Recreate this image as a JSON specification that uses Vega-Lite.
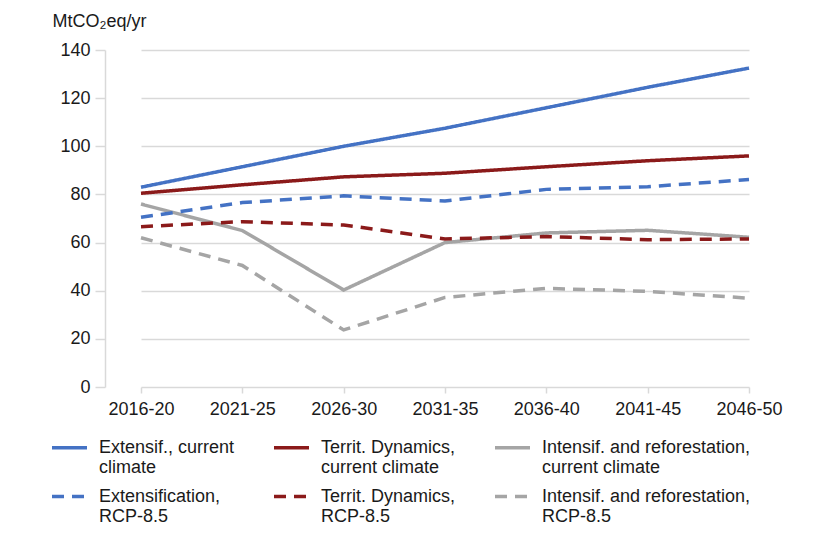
{
  "$schema": "https://vega.github.io/schema/vega-lite/v6.json",
  "width": 693,
  "height": 337,
  "autosize": {"type": "none"},
  "padding": {"left": 105, "top": 50, "right": 38, "bottom": 149},
  "background": "white",
  "config": {
    "font": "Liberation Sans",
    "view": {"stroke": null},
    "axis": {"labelFontSize": 18, "labelColor": "#1a1a1a", "titleColor": "#1a1a1a"},
    "legend": {"labelFontSize": 18, "labelColor": "#1a1a1a"}
  },
  "data": {
    "values": [
      {"period": "2016-20", "series": "Extensif., current climate", "value": 83},
      {"period": "2021-25", "series": "Extensif., current climate", "value": 91.5},
      {"period": "2026-30", "series": "Extensif., current climate", "value": 100},
      {"period": "2031-35", "series": "Extensif., current climate", "value": 107.5},
      {"period": "2036-40", "series": "Extensif., current climate", "value": 116},
      {"period": "2041-45", "series": "Extensif., current climate", "value": 124.5},
      {"period": "2046-50", "series": "Extensif., current climate", "value": 132.5},
      {"period": "2016-20", "series": "Territ. Dynamics, current climate", "value": 80.5},
      {"period": "2021-25", "series": "Territ. Dynamics, current climate", "value": 84},
      {"period": "2026-30", "series": "Territ. Dynamics, current climate", "value": 87.3},
      {"period": "2031-35", "series": "Territ. Dynamics, current climate", "value": 88.8},
      {"period": "2036-40", "series": "Territ. Dynamics, current climate", "value": 91.5},
      {"period": "2041-45", "series": "Territ. Dynamics, current climate", "value": 94},
      {"period": "2046-50", "series": "Territ. Dynamics, current climate", "value": 96},
      {"period": "2016-20", "series": "Intensif. and reforestation, current climate", "value": 76},
      {"period": "2021-25", "series": "Intensif. and reforestation, current climate", "value": 65},
      {"period": "2026-30", "series": "Intensif. and reforestation, current climate", "value": 40.3},
      {"period": "2031-35", "series": "Intensif. and reforestation, current climate", "value": 60},
      {"period": "2036-40", "series": "Intensif. and reforestation, current climate", "value": 64},
      {"period": "2041-45", "series": "Intensif. and reforestation, current climate", "value": 65.1},
      {"period": "2046-50", "series": "Intensif. and reforestation, current climate", "value": 62.2},
      {"period": "2016-20", "series": "Extensification, RCP-8.5", "value": 70.5},
      {"period": "2021-25", "series": "Extensification, RCP-8.5", "value": 76.6},
      {"period": "2026-30", "series": "Extensification, RCP-8.5", "value": 79.4},
      {"period": "2031-35", "series": "Extensification, RCP-8.5", "value": 77.3},
      {"period": "2036-40", "series": "Extensification, RCP-8.5", "value": 82.1},
      {"period": "2041-45", "series": "Extensification, RCP-8.5", "value": 83.2},
      {"period": "2046-50", "series": "Extensification, RCP-8.5", "value": 86.2},
      {"period": "2016-20", "series": "Territ. Dynamics, RCP-8.5", "value": 66.6},
      {"period": "2021-25", "series": "Territ. Dynamics, RCP-8.5", "value": 68.7},
      {"period": "2026-30", "series": "Territ. Dynamics, RCP-8.5", "value": 67.3},
      {"period": "2031-35", "series": "Territ. Dynamics, RCP-8.5", "value": 61.5},
      {"period": "2036-40", "series": "Territ. Dynamics, RCP-8.5", "value": 62.5},
      {"period": "2041-45", "series": "Territ. Dynamics, RCP-8.5", "value": 61.2},
      {"period": "2046-50", "series": "Territ. Dynamics, RCP-8.5", "value": 61.5},
      {"period": "2016-20", "series": "Intensif. and reforestation, RCP-8.5", "value": 62},
      {"period": "2021-25", "series": "Intensif. and reforestation, RCP-8.5", "value": 50.5},
      {"period": "2026-30", "series": "Intensif. and reforestation, RCP-8.5", "value": 23.7},
      {"period": "2031-35", "series": "Intensif. and reforestation, RCP-8.5", "value": 37.2},
      {"period": "2036-40", "series": "Intensif. and reforestation, RCP-8.5", "value": 41},
      {"period": "2041-45", "series": "Intensif. and reforestation, RCP-8.5", "value": 39.7},
      {"period": "2046-50", "series": "Intensif. and reforestation, RCP-8.5", "value": 36.9}
    ]
  },
  "mark": {"type": "line", "strokeWidth": 3.5, "strokeCap": "butt"},
  "encoding": {
    "x": {
      "field": "period",
      "type": "ordinal",
      "scale": {"type": "point", "range": [36, 644], "padding": 0},
      "axis": {
        "title": null,
        "labelAngle": 0,
        "domain": false,
        "grid": false,
        "tickColor": "#D9D9D9",
        "tickWidth": 1.5,
        "tickSize": 6,
        "labelPadding": 7
      }
    },
    "y": {
      "field": "value",
      "type": "quantitative",
      "scale": {"domain": [0, 140], "nice": false},
      "axis": {
        "values": [0, 20, 40, 60, 80, 100, 120, 140],
        "title": "MtCO₂eq/yr",
        "titleAngle": 0,
        "titleAlign": "left",
        "titleBaseline": "alphabetic",
        "titleX": -53,
        "titleY": -24,
        "titleFontSize": 18,
        "titleFontWeight": "normal",
        "gridColor": "#D9D9D9",
        "gridWidth": 1.5,
        "domainColor": "#D9D9D9",
        "domainWidth": 1.5,
        "tickColor": "#D9D9D9",
        "tickWidth": 1.5,
        "tickSize": 10,
        "labelPadding": 5
      }
    },
    "color": {
      "field": "series",
      "type": "nominal",
      "scale": {
        "domain": [
          "Extensif., current climate",
          "Territ. Dynamics, current climate",
          "Intensif. and reforestation, current climate",
          "Extensification, RCP-8.5",
          "Territ. Dynamics, RCP-8.5",
          "Intensif. and reforestation, RCP-8.5"
        ],
        "range": ["#4472C4", "#8B1A1A", "#A5A5A5", "#4472C4", "#8B1A1A", "#A5A5A5"]
      },
      "legend": {
        "title": null,
        "orient": "none",
        "legendX": -55,
        "legendY": 378,
        "direction": "horizontal",
        "columns": 3,
        "columnPadding": 32,
        "rowPadding": 0,
        "symbolType": "stroke",
        "symbolSize": 1225,
        "symbolStrokeWidth": 3.5,
        "labelOffset": 10,
        "labelLimit": 400,
        "labelExpr": "datum.label == 'Extensif., current climate' ? ['Extensif., current', 'climate'] : split(replace(datum.label, ', ', ',|'), '|')"
      }
    },
    "strokeDash": {
      "field": "series",
      "type": "nominal",
      "scale": {
        "domain": [
          "Extensif., current climate",
          "Territ. Dynamics, current climate",
          "Intensif. and reforestation, current climate",
          "Extensification, RCP-8.5",
          "Territ. Dynamics, RCP-8.5",
          "Intensif. and reforestation, RCP-8.5"
        ],
        "range": [[1, 0], [1, 0], [1, 0], [12, 8], [12, 8], [12, 8]]
      }
    }
  }
}
